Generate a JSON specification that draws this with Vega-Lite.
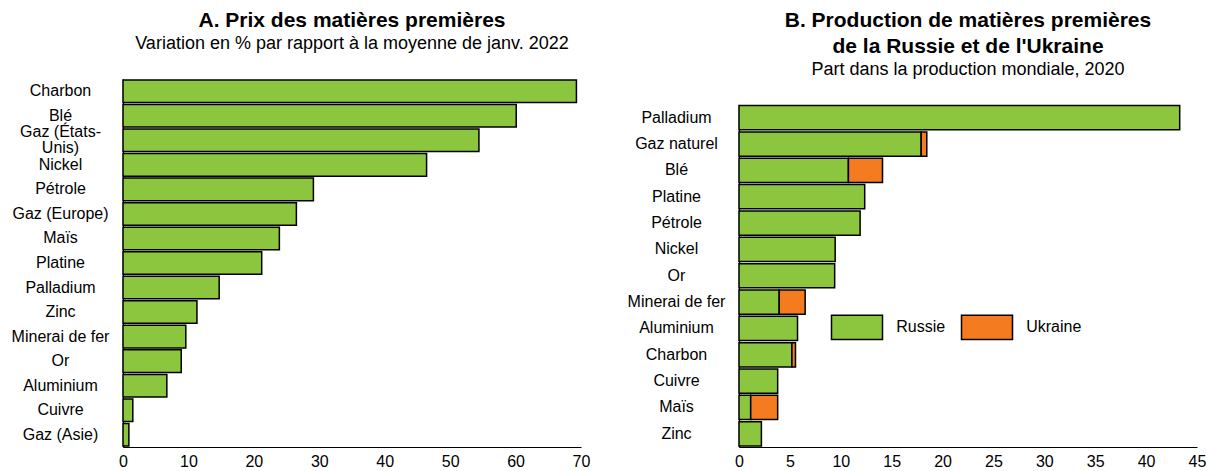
{
  "$schema": "https://vega.github.io/schema/vega-lite/v6.json",
  "padding": {"left": 11, "top": 10, "right": 5, "bottom": 5},
  "background": "#ffffff",
  "config": {
    "font": "Liberation Sans",
    "view": {"stroke": null},
    "axis": {
      "labelFont": "Liberation Sans",
      "labelFontSize": 16,
      "labelColor": "#000000",
      "domainColor": "#000000",
      "domainWidth": 1.2,
      "grid": false,
      "ticks": false,
      "tickSize": 0,
      "title": null
    },
    "title": {
      "font": "Liberation Sans",
      "fontSize": 21,
      "fontWeight": "bold",
      "color": "#000000",
      "subtitleFont": "Liberation Sans",
      "subtitleFontSize": 18,
      "subtitleColor": "#000000",
      "frame": "group",
      "anchor": "middle",
      "lineHeight": 25.5,
      "subtitlePadding": 4
    }
  },
  "spacing": 37,
  "hconcat": [
    {
      "title": {
        "text": "A. Prix des matières premières",
        "subtitle": "Variation en % par rapport à la moyenne de janv. 2022",
        "offset": 26
      },
      "width": 458,
      "height": 368,
      "data": {
        "values": [
          {"matiere": "Charbon", "variation": 69.3},
          {"matiere": "Blé", "variation": 60.1},
          {"matiere": "Gaz (États-Unis)", "variation": 54.4},
          {"matiere": "Nickel", "variation": 46.4},
          {"matiere": "Pétrole", "variation": 29.1},
          {"matiere": "Gaz (Europe)", "variation": 26.5},
          {"matiere": "Maïs", "variation": 23.9},
          {"matiere": "Platine", "variation": 21.2},
          {"matiere": "Palladium", "variation": 14.7},
          {"matiere": "Zinc", "variation": 11.3},
          {"matiere": "Minerai de fer", "variation": 9.6},
          {"matiere": "Or", "variation": 8.9},
          {"matiere": "Aluminium", "variation": 6.7},
          {"matiere": "Cuivre", "variation": 1.5},
          {"matiere": "Gaz (Asie)", "variation": 0.9}
        ]
      },
      "mark": {"type": "bar", "fill": "#8CC63F", "stroke": "#000000", "strokeWidth": 1.5},
      "encoding": {
        "y": {
          "field": "matiere",
          "type": "nominal",
          "sort": null,
          "scale": {"paddingInner": 0.08, "paddingOuter": 0.04},
          "axis": {
            "labelAlign": "center",
            "labelPadding": 63,
            "labelLineHeight": 16,
            "labelOffset": {"condition": {"test": "datum.value == 'Gaz (États-Unis)'", "value": -8}, "value": 0},
            "labelExpr": "datum.value == 'Gaz (États-Unis)' ? ['Gaz (États-', 'Unis)'] : datum.value"
          }
        },
        "x": {
          "field": "variation",
          "type": "quantitative",
          "scale": {"domain": [0, 70], "nice": false},
          "axis": {"values": [0, 10, 20, 30, 40, 50, 60, 70], "labelFlush": false, "labelPadding": 6}
        }
      }
    },
    {
      "title": {
        "text": ["B. Production de matières premières", "de la Russie et de l'Ukraine"],
        "subtitle": "Part dans la production mondiale, 2020",
        "offset": 0.5
      },
      "width": 458,
      "height": 368,
      "data": {
        "values": [
          {"matiere": "Palladium", "pays": "Russie", "part": 43.3},
          {"matiere": "Gaz naturel", "pays": "Russie", "part": 17.9},
          {"matiere": "Gaz naturel", "pays": "Ukraine", "part": 0.55},
          {"matiere": "Blé", "pays": "Russie", "part": 10.75},
          {"matiere": "Blé", "pays": "Ukraine", "part": 3.35},
          {"matiere": "Platine", "pays": "Russie", "part": 12.35},
          {"matiere": "Pétrole", "pays": "Russie", "part": 11.9},
          {"matiere": "Nickel", "pays": "Russie", "part": 9.45},
          {"matiere": "Or", "pays": "Russie", "part": 9.4},
          {"matiere": "Minerai de fer", "pays": "Russie", "part": 3.95},
          {"matiere": "Minerai de fer", "pays": "Ukraine", "part": 2.55},
          {"matiere": "Aluminium", "pays": "Russie", "part": 5.75},
          {"matiere": "Charbon", "pays": "Russie", "part": 5.2},
          {"matiere": "Charbon", "pays": "Ukraine", "part": 0.35},
          {"matiere": "Cuivre", "pays": "Russie", "part": 3.8},
          {"matiere": "Maïs", "pays": "Russie", "part": 1.15},
          {"matiere": "Maïs", "pays": "Ukraine", "part": 2.65},
          {"matiere": "Zinc", "pays": "Russie", "part": 2.2}
        ]
      },
      "mark": {"type": "bar", "stroke": "#000000", "strokeWidth": 1.5},
      "encoding": {
        "y": {
          "field": "matiere",
          "type": "nominal",
          "sort": ["Palladium", "Gaz naturel", "Blé", "Platine", "Pétrole", "Nickel", "Or", "Minerai de fer", "Aluminium", "Charbon", "Cuivre", "Maïs", "Zinc"],
          "scale": {"paddingInner": 0.08, "paddingOuter": 0.04, "range": [25.5, 368]},
          "axis": {"labelAlign": "center", "labelPadding": 63}
        },
        "x": {
          "field": "part",
          "type": "quantitative",
          "stack": "zero",
          "scale": {"domain": [0, 45], "nice": false},
          "axis": {"values": [0, 5, 10, 15, 20, 25, 30, 35, 40, 45], "labelFlush": false, "labelPadding": 6}
        },
        "color": {
          "field": "pays",
          "type": "nominal",
          "scale": {"domain": ["Russie", "Ukraine"], "range": ["#8CC63F", "#F47B20"]},
          "legend": {
            "orient": "none",
            "legendX": 707.5,
            "legendY": 221.75,
            "direction": "horizontal",
            "title": null,
            "symbolType": "M-1,-0.48H1V0.48H-1Z",
            "symbolSize": 2601,
            "symbolStrokeColor": "#000000",
            "symbolStrokeWidth": 1.5,
            "symbolOpacity": 1,
            "labelFont": "Liberation Sans",
            "labelFontSize": 16,
            "labelColor": "#000000",
            "labelOffset": 12.7,
            "columnPadding": 13
          }
        },
        "order": {"field": "pays", "sort": "ascending"}
      }
    }
  ]
}
